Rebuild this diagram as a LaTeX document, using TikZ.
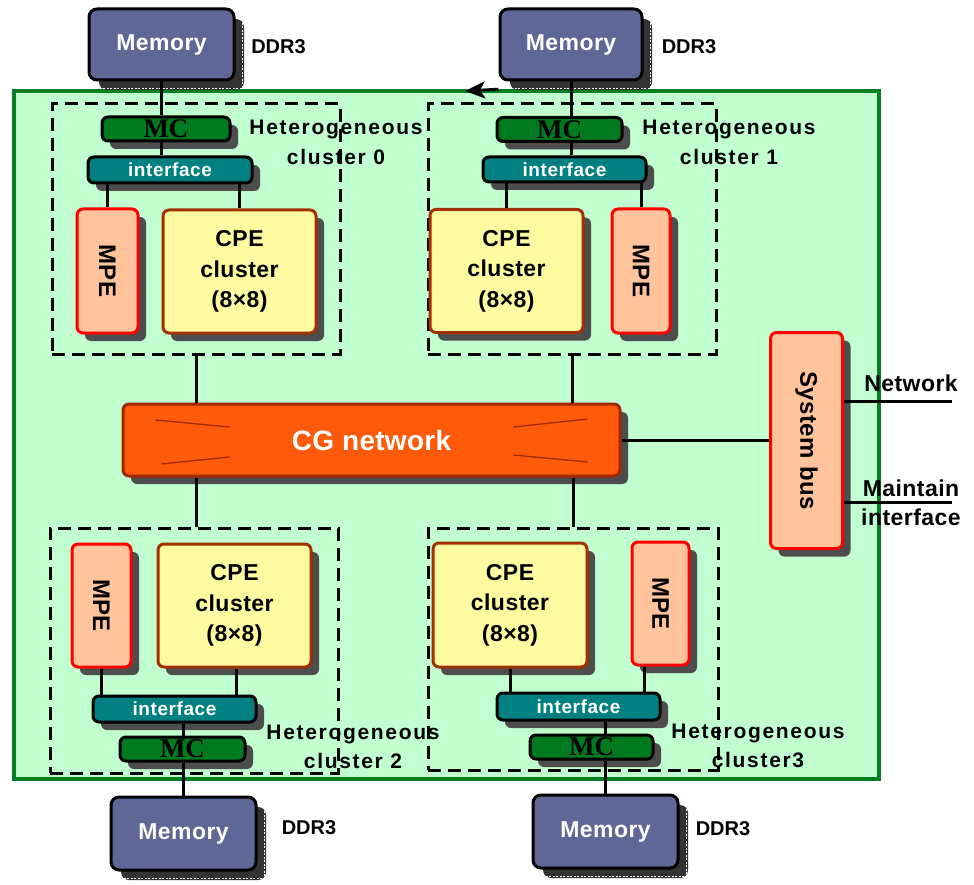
\documentclass[tikz,border=0pt]{standalone}
\usepackage{fontspec}
\setmainfont{Liberation Sans}
\newfontfamily\mcfont{Liberation Serif}
\usetikzlibrary{shadows,arrows.meta,calc}

\definecolor{panelc}{RGB}{194,255,208}
\definecolor{panelb}{RGB}{0,128,32}
\definecolor{memc}{RGB}{94,103,150}
\definecolor{mcc}{RGB}{0,122,30}
\definecolor{ifc}{RGB}{0,128,128}
\definecolor{mpec}{RGB}{255,196,156}
\definecolor{cpec}{RGB}{255,251,160}
\definecolor{cpeb}{RGB}{163,48,0}
\definecolor{cgc}{RGB}{255,90,10}
\definecolor{cgb}{RGB}{160,40,0}
\definecolor{shc}{RGB}{77,77,77}
\definecolor{memsh}{RGB}{51,51,51}

\newcommand{\fsz}[2]{\fontsize{#1}{#2}\selectfont}

\begin{document}
\begin{tikzpicture}[x=1pt,y=-1pt,
  blk/.style={rounded corners=6pt, line width=3pt, inner sep=0pt,
    drop shadow={shadow xshift=8pt, shadow yshift=-8pt, fill=shc, opacity=1}},
  membox/.style={rounded corners=8pt, line width=3pt, inner sep=0pt, draw=black, fill=memc, text=white,
    drop shadow={shadow xshift=10pt, shadow yshift=-10pt, fill=memsh, opacity=1},
    font=\fsz{23}{26}\bfseries\addfontfeature{LetterSpace=2}},
  memdash/.style={white, line width=0.7pt, dash pattern=on 2pt off 1.5pt},
  mcbox/.style={blk, draw=black, fill=mcc, text=black, font=\mcfont\fsz{27}{28}\bfseries},
  ifbox/.style={blk, draw=black, fill=ifc, text=white, font=\fsz{19}{22}\bfseries\addfontfeature{LetterSpace=3}},
  mpebox/.style={blk, draw=red, fill=mpec, text=black, font=\fsz{24}{26}\bfseries\addfontfeature{LetterSpace=2}},
  cpebox/.style={blk, draw=cpeb, fill=cpec, text=black, align=center, font=\fsz{23}{30.5}\bfseries\addfontfeature{LetterSpace=2}},
  cgbox/.style={blk, draw=cgb, fill=cgc, text=white, font=\fsz{28}{30}\bfseries\addfontfeature{LetterSpace=1}},
  sbbox/.style={blk, draw=red, fill=mpec, text=black, font=\fsz{24}{26}\bfseries\addfontfeature{LetterSpace=2}},
  clframe/.style={draw=black, line width=3pt, dash pattern=on 13pt off 7pt, inner sep=0pt},
  hetlbl/.style={inner sep=0pt, align=center, font=\fsz{21}{29.5}\bfseries\addfontfeature{LetterSpace=8}},
  ddrlbl/.style={inner sep=0pt, font=\fsz{20}{22}\bfseries},
  extlbl/.style={inner sep=0pt, align=center, font=\fsz{23}{29}\bfseries\addfontfeature{LetterSpace=2}},
  conn/.style={line width=3pt, black},
  cgdeco/.style={cgb, line width=1.3pt}
]
\useasboundingbox (0,0) rectangle (974,885);

% main panel
\node[draw=panelb, fill=panelc, line width=3.5pt, minimum width=865pt, minimum height=688pt, inner sep=0pt] (panel) at (446.5,435) {};

% cluster frames
\node[clframe, minimum width=288pt, minimum height=250pt] (cl0) at (196,229) {};
\node[clframe, minimum width=288pt, minimum height=250pt] (cl1) at (572,229) {};
\node[clframe, minimum width=288pt, minimum height=245pt] (cl2) at (194,650.5) {};
\node[clframe, minimum width=290pt, minimum height=242pt] (cl3) at (573,649) {};

% memories
\node[membox, minimum width=145pt, minimum height=71pt] (mem0) at (161.5,44.5) {Memory};
\node[membox, minimum width=142pt, minimum height=71pt] (mem1) at (571,44.5) {Memory};
\node[membox, minimum width=145pt, minimum height=73pt] (mem2) at (183.5,833.5) {Memory};
\node[membox, minimum width=145pt, minimum height=73pt] (mem3) at (605.5,831.5) {Memory};
\foreach \m in {mem0,mem1,mem2,mem3}{
  \draw[memdash] ([shift={(7,12)}]\m.north east) -- ([shift={(7,7)}]\m.south east) -- ([shift={(11,7)}]\m.south west);
}

\node[ddrlbl] (d0) at (278.5,47) {DDR3};
\node[ddrlbl] (d1) at (689,47) {DDR3};
\node[ddrlbl] (d2) at (309,828) {DDR3};
\node[ddrlbl] (d3) at (723,829) {DDR3};

% MC
\node[mcbox, minimum width=128pt, minimum height=24pt] (mc0) at (166,129) {MC};
\node[mcbox, minimum width=125pt, minimum height=24pt] (mc1) at (559.5,129.5) {MC};
\node[mcbox, minimum width=125pt, minimum height=24pt] (mc2) at (182.5,749) {MC};
\node[mcbox, minimum width=123pt, minimum height=24pt] (mc3) at (591.5,747) {MC};

% interfaces
\node[ifbox, minimum width=164pt, minimum height=26pt] (if0) at (170,170) {interface};
\node[ifbox, minimum width=163pt, minimum height=25pt] (if1) at (564.5,169.5) {interface};
\node[ifbox, minimum width=163pt, minimum height=26pt] (if2) at (174.5,709) {interface};
\node[ifbox, minimum width=163pt, minimum height=27pt] (if3) at (578.5,706.5) {interface};

% MPE
\node[mpebox, minimum width=61pt, minimum height=124pt] (mpe0) at (107.5,271) {\rotatebox{-90}{MPE}};
\node[mpebox, minimum width=58pt, minimum height=124pt] (mpe1) at (641,271) {\rotatebox{-90}{MPE}};
\node[mpebox, minimum width=59pt, minimum height=123pt] (mpe2) at (101.5,605.5) {\rotatebox{-90}{MPE}};
\node[mpebox, minimum width=57pt, minimum height=123pt] (mpe3) at (660.5,603.5) {\rotatebox{-90}{MPE}};

% CPE
\node[cpebox, minimum width=153pt, minimum height=123pt] (cpe0) at (239.5,271.5) {CPE\\cluster\\(8×8)};
\node[cpebox, minimum width=153pt, minimum height=123pt] (cpe1) at (506.5,271) {CPE\\cluster\\(8×8)};
\node[cpebox, minimum width=153pt, minimum height=123pt] (cpe2) at (234.5,605.5) {CPE\\cluster\\(8×8)};
\node[cpebox, minimum width=154pt, minimum height=124pt] (cpe3) at (510,605) {CPE\\cluster\\(8×8)};

% cluster labels
\node[hetlbl] (h0) at (336,142.5) {Heterogeneous\\cluster 0};
\node[hetlbl] (h1) at (729,142.5) {Heterogeneous\\cluster 1};
\node[hetlbl] (h2) at (353,747) {Heterogeneous\\cluster 2};
\node[hetlbl] (h3) at (758,746) {Heterogeneous\\cluster3};

% CG network
\node[cgbox, minimum width=497pt, minimum height=72pt] (cg) at (371.5,440) {CG network};
\draw[cgdeco] ([shift={(-216,-20)}]cg.center) -- ([shift={(-142,-13)}]cg.center);
\draw[cgdeco] ([shift={(-210,24)}]cg.center) -- ([shift={(-142,17)}]cg.center);
\draw[cgdeco] ([shift={(142,-13)}]cg.center) -- ([shift={(216,-21)}]cg.center);
\draw[cgdeco] ([shift={(142,15)}]cg.center) -- ([shift={(216,22)}]cg.center);

% system bus
\node[sbbox, minimum width=72pt, minimum height=216pt] (sb) at (806.5,440.5) {\rotatebox{-90}{System bus}};

\node[extlbl] (net) at (911,383) {Network};
\node[extlbl] (mnt) at (911,503) {Maintain\\interface};
\coordinate (netend) at (952,401);
\coordinate (mntend) at (952,502);

% connectors
\draw[conn] (mem0.south) -- (mem0.south |- mc0.north);
\draw[conn] (mem0.south |- mc0.south) -- (mem0.south |- if0.north);
\draw[conn] (mpe0.north) -- (mpe0.north |- if0.south);
\draw[conn] (cpe0.north) -- (cpe0.north |- if0.south);

\draw[conn] (mem1.south) -- (mem1.south |- mc1.north);
\draw[conn] (mem1.south |- mc1.south) -- (mem1.south |- if1.north);
\draw[conn] (mpe1.north) -- (mpe1.north |- if1.south);
\draw[conn] (cpe1.north) -- (cpe1.north |- if1.south);

\draw[conn] (mem2.north) -- (mem2.north |- mc2.south);
\draw[conn] (mem2.north |- mc2.north) -- (mem2.north |- if2.south);
\draw[conn] (mpe2.south) -- (mpe2.south |- if2.north);
\draw[conn] ([xshift=1.5pt]cpe2.south) -- ([xshift=1.5pt]cpe2.south |- if2.north);

\draw[conn] (mem3.north) -- (mem3.north |- mc3.south);
\draw[conn] (mem3.north |- mc3.north) -- (mem3.north |- if3.south);
\draw[conn] ([xshift=-16.5pt]mpe3.south) -- ([xshift=-16.5pt]mpe3.south |- if3.north);
\draw[conn] (cpe3.south) -- (cpe3.south |- if3.north);

\draw[conn] (cl0.south) -- (cl0.south |- cg.north);
\draw[conn] (cl1.south) -- (cl1.south |- cg.north);
\draw[conn] ([xshift=2pt]cl2.north) -- ([xshift=2pt]cl2.north |- cg.south);
\draw[conn] (cl3.north) -- (cl3.north |- cg.south);

\draw[conn] (cg.east) -- (sb.west |- cg.east);
\draw[conn] (sb.east |- netend) -- (netend);
\draw[conn] (sb.east |- mntend) -- (mntend);

\coordinate (arrtip) at (465,91);
\draw[conn, -{Stealth[length=20pt,width=17pt,inset=5pt]}] (mem1.south west |- panel.north) -- (arrtip);
\end{tikzpicture}
\end{document}
